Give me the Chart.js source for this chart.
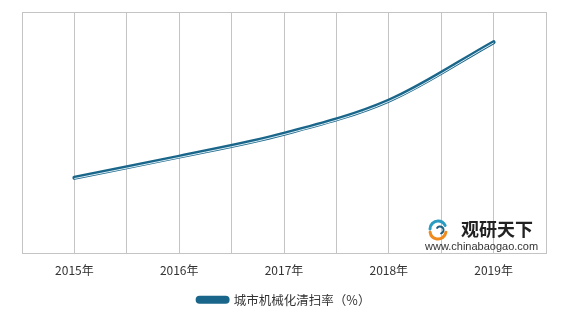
<!DOCTYPE html>
<html>
<head>
<meta charset="utf-8">
<script src="https://cdn.jsdelivr.net/npm/chart.js@4/dist/chart.umd.min.js"></script>
<style>
html,body{margin:0;padding:0;background:#fff;}
#wrap{width:566px;height:317px;position:relative;}
</style>
</head>
<body>
<div id="wrap"><canvas id="c" width="566" height="317"></canvas></div>
<script>
const categories = ['2015年', '2016年', '2017年', '2018年', '2019年'];
const seriesName = '城市机械化清扫率（%）';
const values = [52.5, 56, 59.8, 65.3, 75];

const points = values.map((v, i) => ({x: i, y: v}));

const stripeShift = {
  id: 'stripeShift',
  beforeDatasetDraw(chart, args) {
    if (args.index === 1) { chart.ctx.save(); chart.ctx.translate(0, 0.8); }
  },
  afterDatasetDraw(chart, args) {
    if (args.index === 1) { chart.ctx.restore(); }
  }
};

const watermark = {
  id: 'watermark',
  afterDraw(chart) {
    const ctx = chart.ctx;
    ctx.save();
    ctx.lineCap = 'round';
    ctx.strokeStyle = '#2a9bc1';
    ctx.lineWidth = 3;
    ctx.beginPath(); ctx.arc(438, 229, 8, Math.PI * 1.0, Math.PI * 1.85); ctx.stroke();
    ctx.strokeStyle = '#f08a1c';
    ctx.beginPath(); ctx.arc(438, 231, 8, Math.PI * 0.05, Math.PI * 0.95); ctx.stroke();
    ctx.strokeStyle = '#1d5f82';
    ctx.lineWidth = 2;
    ctx.beginPath(); ctx.arc(440, 230, 3.5, Math.PI * 1.2, Math.PI * 2.4); ctx.stroke();
    ctx.fillStyle = '#222';
    ctx.font = 'bold 18px "Noto Sans CJK SC"';
    ctx.textBaseline = 'middle';
    ctx.textAlign = 'left';
    ctx.fillText('观研天下', 461, 229);
    ctx.font = '11px "Liberation Sans"';
    ctx.fillStyle = '#333';
    ctx.fillText('www.chinabaogao.com', 425, 247);
    ctx.restore();
  }
};

new Chart(document.getElementById('c'), {
  type: 'line',
  data: {
    datasets: [
      {
        label: seriesName,
        data: points,
        borderColor: '#1a668a',
        backgroundColor: '#1a668a',
        borderWidth: 4,
        pointRadius: 0,
        cubicInterpolationMode: 'monotone',
        borderCapStyle: 'round',
        order: 1
      },
      {
        label: '_stripe',
        data: points,
        borderColor: '#d9ecf4',
        borderWidth: 1,
        pointRadius: 0,
        cubicInterpolationMode: 'monotone',
        order: 0
      }
    ]
  },
  options: {
    responsive: false,
    animation: false,
    layout: {padding: {left: 22, right: 20, top: 12, bottom: 1}},
    plugins: {
      tooltip: {enabled: false},
      legend: {
        position: 'bottom',
        labels: {
          filter: (item) => item.text !== '_stripe',
          boxWidth: 30,
          boxHeight: 4,
          useBorderRadius: true,
          borderRadius: 2,
          color: '#333333',
          font: {family: '"Noto Sans CJK SC"', size: 12.5},
          padding: 6
        }
      }
    },
    scales: {
      x: {
        type: 'linear',
        min: -0.5,
        max: 4.5,
        grid: {color: '#c4c4c4', lineWidth: 1, drawTicks: false},
        border: {color: '#c4c4c4'},
        ticks: {
          stepSize: 0.5,
          autoSkip: false,
          maxRotation: 0,
          padding: 10,
          color: '#333333',
          font: {family: '"Noto Sans CJK SC"', size: 12},
          callback: (v) => Number.isInteger(v) ? categories[v] : ''
        }
      },
      y: {
        min: 40,
        max: 80,
        grid: {color: '#c4c4c4', drawTicks: false},
        border: {display: false},
        ticks: {stepSize: 40, display: false}
      }
    }
  },
  plugins: [stripeShift, watermark]
});
</script>
</body>
</html>
